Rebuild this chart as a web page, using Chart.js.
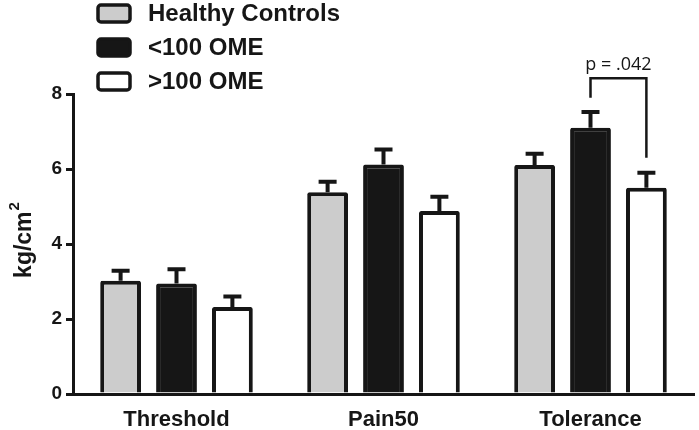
<!DOCTYPE html>
<html>
<head>
<meta charset="utf-8">
<script src="https://cdn.jsdelivr.net/npm/chart.js@4/dist/chart.umd.min.js"></script>
<style>
  html, body { margin: 0; padding: 0; background: #fff; }
  #wrap { width: 699px; height: 430px; }
</style>
</head>
<body>
<div id="wrap"><canvas id="myChart"></canvas></div>
<script>
// data
const categories = ['Threshold', 'Pain50', 'Tolerance'];
const seriesNames = ['Healthy Controls', '<100 OME', '>100 OME'];
const healthy = [3.02, 5.38, 6.11];
const low = [2.95, 6.12, 7.1];
const high = [2.32, 4.88, 5.5];
const healthyErr = [0.27, 0.28, 0.3];
const lowErr = [0.38, 0.4, 0.42];
const highErr = [0.28, 0.38, 0.4];
const yTicks = [0, 2, 4, 6, 8];

const fills = ['#cccccc', '#161616', '#ffffff'];
const errs = [healthyErr, lowErr, highErr];

// significance bracket between Tolerance <100 and >100
const bracket = { cat: 2, from: 1, to: 2, top: 8.42, leftEnd: 7.9, rightEnd: 6.3, label: 'p = .042' };

const ctx = document.getElementById('myChart');

const errorBars = {
    id: 'errorBars',
    afterDatasetsDraw(chart) {
        const c = chart.ctx;
        const y = chart.scales.y;
        c.save();
        c.strokeStyle = '#161616';
        c.lineWidth = 4;
        chart.data.datasets.forEach((ds, i) => {
            const meta = chart.getDatasetMeta(i);
            meta.data.forEach((bar, j) => {
                const top = y.getPixelForValue(ds.data[j] + errs[i][j]);
                c.beginPath();
                c.moveTo(bar.x, bar.y);
                c.lineTo(bar.x, top);
                c.moveTo(bar.x - 9, top);
                c.lineTo(bar.x + 9, top);
                c.stroke();
            });
        });
        // bracket
        const a = chart.getDatasetMeta(bracket.from).data[bracket.cat];
        const b = chart.getDatasetMeta(bracket.to).data[bracket.cat];
        const yt = y.getPixelForValue(bracket.top);
        c.lineWidth = 2.5;
        c.beginPath();
        c.moveTo(a.x, y.getPixelForValue(bracket.leftEnd));
        c.lineTo(a.x, yt);
        c.lineTo(b.x, yt);
        c.lineTo(b.x, y.getPixelForValue(bracket.rightEnd));
        c.stroke();
        c.fillStyle = '#161616';
        c.font = '18px "Open Sans"';
        c.textAlign = 'center';
        c.textBaseline = 'bottom';
        c.fillText(bracket.label, (a.x + b.x) / 2, yt - 4);
        c.restore();
    }
};

const boxLegend = {
    id: 'boxLegend',
    afterDraw(chart) {
        const c = chart.ctx;
        c.save();
        c.font = 'bold 24px "Liberation Sans"';
        c.textBaseline = 'middle';
        seriesNames.forEach((name, i) => {
            const top = 5 + i * 34;
            c.beginPath();
            c.roundRect(98, top, 32, 17, 3);
            c.fillStyle = fills[i];
            c.fill();
            c.lineWidth = 3.5;
            c.strokeStyle = '#161616';
            c.stroke();
            c.fillStyle = '#161616';
            c.fillText(name, 148, top + 9);
        });
        // y axis title with superscript
        c.translate(31, 240);
        c.rotate(-Math.PI / 2);
        c.textBaseline = 'alphabetic';
        c.font = 'bold 23px "Liberation Sans"';
        const main = 'kg/cm';
        const w1 = c.measureText(main).width;
        c.font = 'bold 15px "Liberation Sans"';
        const w2 = c.measureText('2').width;
        const x0 = -(w1 + w2 + 1) / 2;
        c.font = 'bold 23px "Liberation Sans"';
        c.fillText(main, x0, 0);
        c.font = 'bold 15px "Liberation Sans"';
        c.fillText('2', x0 + w1 + 1, -12);
        c.restore();
    }
};

const myChart = new Chart(ctx, {
    type: 'bar',
    data: {
        labels: categories,
        datasets: [healthy, low, high].map((d, i) => ({
            label: seriesNames[i],
            data: d,
            backgroundColor: fills[i],
            borderColor: '#161616',
            borderWidth: 4,
            borderRadius: 2,
            borderSkipped: 'bottom',
            categoryPercentage: 0.81,
            barPercentage: 0.73
        }))
    },
    options: {
        responsive: true,
        maintainAspectRatio: false,
        animation: false,
        layout: { padding: { top: 94, right: 5, left: 0, bottom: 0 } },
        plugins: {
            legend: { display: false },
            tooltip: { enabled: false }
        },
        scales: {
            x: {
                grid: { display: false },
                border: { color: '#161616', width: 3 },
                ticks: { color: '#161616', font: { family: 'Liberation Sans', size: 22, weight: 'bold' }, padding: 5 },
                afterFit(s) { s.height = 36; }
            },
            y: {
                min: 0,
                max: 8,
                afterBuildTicks(s) { s.ticks = yTicks.map(v => ({ value: v })); },
                grid: { drawOnChartArea: false, color: '#161616', lineWidth: 3, tickLength: 7 },
                border: { color: '#161616', width: 3 },
                ticks: { color: '#161616', font: { family: 'Liberation Sans', size: 19, weight: 'bold' }, padding: 4 },
                afterFit(s) { s.width = 73; }
            }
        }
    },
    plugins: [errorBars, boxLegend]
});
</script>
</body>
</html>
